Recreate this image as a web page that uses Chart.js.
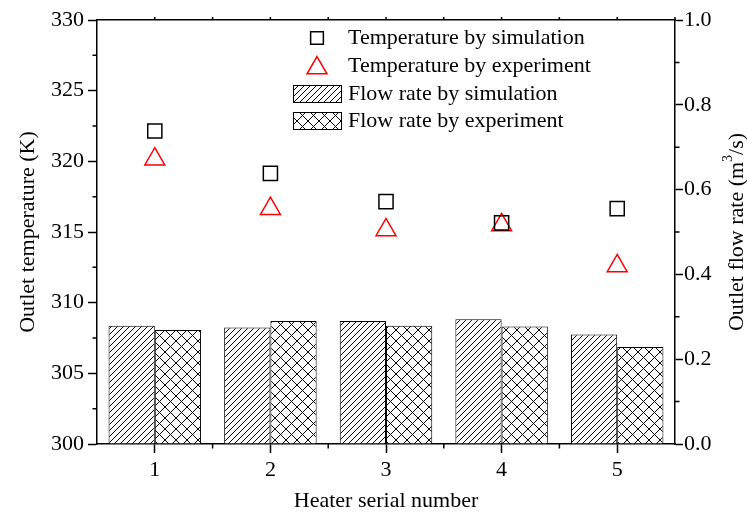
<!DOCTYPE html>
<html>
<head>
<meta charset="utf-8">
<script src="https://cdn.jsdelivr.net/npm/chart.js@4.4.1/dist/chart.umd.min.js"></script>
<style>
  html, body { margin: 0; padding: 0; background: #fff; }
</style>
</head>
<body>
<canvas id="heaterChart" width="747" height="514"></canvas>
<script>
/* global Chart */

const heaters = ['1', '2', '3', '4', '5'];
const tempSim = [322.15, 319.15, 317.15, 315.65, 316.65];
const tempExp = [320.15, 316.65, 315.15, 315.5, 312.6];
const flowSim = [0.279, 0.275, 0.290, 0.294, 0.258];
const flowExp = [0.269, 0.290, 0.279, 0.277, 0.229];
const tempTicks = [300, 305, 310, 315, 320, 325, 330];
const flowTicks = [0.0, 0.2, 0.4, 0.6, 0.8, 1.0];

const FONT = '"Liberation Serif", "Times New Roman", serif';
Chart.defaults.font.family = FONT;
Chart.defaults.font.size = 22;
Chart.defaults.color = '#000';

// hatch fills: '///' for simulation, crosshatch for experiment
function hatch(cross) {
  const size = cross ? 11 : 6;
  const c = document.createElement('canvas');
  c.width = size;
  c.height = size;
  const g = c.getContext('2d');
  g.fillStyle = '#fff';
  g.fillRect(0, 0, size, size);
  g.strokeStyle = '#000';
  g.lineWidth = 1;
  g.beginPath();
  g.moveTo(-1, size + 1); g.lineTo(size + 1, -1);
  g.moveTo(-1, 1); g.lineTo(1, -1);
  g.moveTo(size - 1, size + 1); g.lineTo(size + 1, size - 1);
  if (cross) {
    g.moveTo(-1, -1); g.lineTo(size + 1, size + 1);
    g.moveTo(size - 1, -1); g.lineTo(size + 1, 1);
    g.moveTo(-1, size - 1); g.lineTo(1, size + 1);
  }
  g.stroke();
  return g.createPattern(c, 'repeat');
}

// short ticks between the labelled ones, on all four sides
const minorTicks = {
  id: 'minorTicks',
  afterDraw(chart) {
    const { ctx, chartArea: a, scales } = chart;
    ctx.save();
    ctx.strokeStyle = '#000';
    ctx.lineWidth = 1.5;
    ctx.beginPath();
    for (let v = 302.5; v < 330; v += 5) {
      const y = scales.yT.getPixelForValue(v);
      ctx.moveTo(a.left - 4.5, y); ctx.lineTo(a.left, y);
    }
    for (let v = 0.1; v < 1; v += 0.2) {
      const y = scales.yF.getPixelForValue(v);
      ctx.moveTo(a.right, y); ctx.lineTo(a.right + 4.5, y);
    }
    for (let i = 1; i < heaters.length; i += 1) {
      const x = scales.x.getPixelForValue(i - 0.5);
      ctx.moveTo(x, a.bottom); ctx.lineTo(x, a.bottom + 4.5);
    }
    for (let v = 0; v < heaters.length - 0.25; v += 0.5) {
      const x = scales.xTop.getPixelForValue(v);
      ctx.moveTo(x, a.top); ctx.lineTo(x, a.top - 3);
    }
    ctx.stroke();
    ctx.restore();
  },
};

// right axis title, read bottom to top, with a superscript 3
const flowTitle = {
  id: 'flowTitle',
  afterDraw(chart) {
    const { ctx, chartArea: a } = chart;
    const parts = [['Outlet flow rate (m', 22, 0], ['3', 14, -9], ['/s)', 22, 0]];
    ctx.save();
    ctx.translate(737, (a.top + a.bottom) / 2);
    ctx.rotate(-Math.PI / 2);
    ctx.fillStyle = '#000';
    ctx.textBaseline = 'middle';
    let total = 0;
    parts.forEach(([t, s]) => { ctx.font = `${s}px ${FONT}`; total += ctx.measureText(t).width; });
    let x = -total / 2;
    parts.forEach(([t, s, dy]) => {
      ctx.font = `${s}px ${FONT}`;
      ctx.fillText(t, x, dy);
      x += ctx.measureText(t).width;
    });
    ctx.restore();
  },
};

const legendBox = {
  id: 'legendBox',
  afterDraw(chart) {
    const { ctx } = chart;
    const ds = chart.data.datasets;
    const rows = [38, 66, 94, 121];
    ctx.save();
    ds.forEach((d, i) => {
      const y = rows[i];
      if (d.type === 'line') {
        ctx.strokeStyle = d.pointBorderColor;
        ctx.fillStyle = 'rgba(0,0,0,0)';
        ctx.lineWidth = d.pointBorderWidth;
        const r = d.pointStyle === 'rect' ? 9 : d.pointRadius;
        Chart.helpers.drawPoint(ctx, { pointStyle: d.pointStyle, radius: r, borderWidth: d.pointBorderWidth }, 317, y + (d.pointStyle === 'triangle' ? 2 : 0));
      } else {
        ctx.fillStyle = d.backgroundColor;
        ctx.fillRect(293.5, y - 8.5, 48, 17);
        ctx.strokeStyle = '#000';
        ctx.lineWidth = 1;
        ctx.strokeRect(293.5, y - 8.5, 48, 17);
      }
      ctx.fillStyle = '#000';
      ctx.font = `22px ${FONT}`;
      ctx.textBaseline = 'middle';
      ctx.fillText(d.label, 348, y);
    });
    ctx.restore();
  },
};

const axisLine = { display: true, color: '#000', width: 1.5 };

const chart = new Chart(document.getElementById('heaterChart'), {
  data: {
    labels: heaters,
    datasets: [
      {
        type: 'line',
        label: 'Temperature by simulation',
        data: tempSim,
        yAxisID: 'yT',
        showLine: false,
        pointStyle: 'rect',
        pointRadius: 10,
        pointBorderWidth: 1.5,
        pointBorderColor: '#000',
        pointBackgroundColor: 'rgba(0,0,0,0)',
        order: 0,
      },
      {
        type: 'line',
        label: 'Temperature by experiment',
        data: tempExp,
        yAxisID: 'yT',
        showLine: false,
        pointStyle: 'triangle',
        pointRadius: 11.5,
        pointBorderWidth: 1.5,
        pointBorderColor: '#ff0000',
        pointBackgroundColor: 'rgba(0,0,0,0)',
        order: 0,
      },
      {
        type: 'bar',
        label: 'Flow rate by simulation',
        data: flowSim,
        yAxisID: 'yF',
        backgroundColor: hatch(false),
        borderColor: '#000',
        borderWidth: 1,
        categoryPercentage: 0.8,
        barPercentage: 1.0,
        order: 1,
      },
      {
        type: 'bar',
        label: 'Flow rate by experiment',
        data: flowExp,
        yAxisID: 'yF',
        backgroundColor: hatch(true),
        borderColor: '#000',
        borderWidth: 1,
        categoryPercentage: 0.8,
        barPercentage: 1.0,
        order: 1,
      },
    ],
  },
  options: {
    responsive: false,
    animation: false,
    events: [],
    layout: { padding: 0 },
    plugins: { legend: { display: false }, tooltip: { enabled: false } },
    scales: {
      x: {
        type: 'category',
        position: 'bottom',
        offset: true,
        border: axisLine,
        grid: { drawOnChartArea: false, offset: false, tickLength: 9, tickColor: '#000', tickWidth: 1.5 },
        ticks: { padding: 4, maxRotation: 0 },
        title: { display: true, text: 'Heater serial number', padding: { top: 0, bottom: 0 } },
        afterFit(scale) { scale.height = 70; },
      },
      xTop: {
        type: 'category',
        position: 'top',
        offset: true,
        border: axisLine,
        grid: { drawOnChartArea: false, drawTicks: false },
        ticks: { display: false },
        afterFit(scale) { scale.height = 20; },
      },
      yT: {
        type: 'linear',
        position: 'left',
        min: 300,
        max: 330,
        border: axisLine,
        grid: { drawOnChartArea: false, tickLength: 9, tickColor: '#000', tickWidth: 1.5 },
        afterBuildTicks(scale) { scale.ticks = tempTicks.map((v) => ({ value: v })); },
        ticks: { padding: 4 },
        title: { display: true, text: 'Outlet temperature (K)', padding: { top: 15, bottom: 0 } },
        afterFit(scale) { scale.width = 97; },
      },
      yF: {
        type: 'linear',
        position: 'right',
        min: 0,
        max: 1,
        border: axisLine,
        grid: { drawOnChartArea: false, tickLength: 8, tickColor: '#000', tickWidth: 1.5 },
        afterBuildTicks(scale) { scale.ticks = flowTicks.map((v) => ({ value: v })); },
        ticks: { padding: 1, callback: (v) => v.toFixed(1) },
        afterFit(scale) { scale.width = 72; },
      },
    },
  },
  plugins: [minorTicks, flowTitle, legendBox],
});
</script>
</body>
</html>
